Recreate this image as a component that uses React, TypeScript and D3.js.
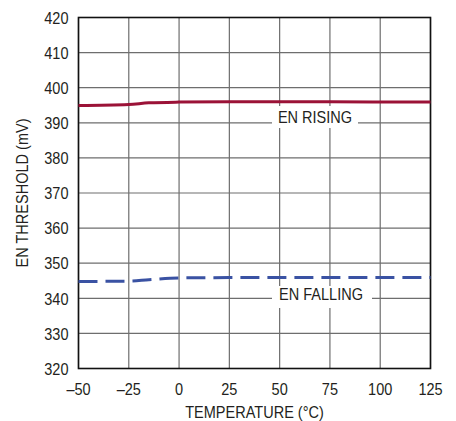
import React from "react";
import * as d3 from "d3";

const temps = [-50, -25, -15, 0, 25, 50, 75, 100, 125];
const risingMv = [394.9, 395.2, 395.7, 395.9, 396.0, 396.0, 396.0, 395.95, 395.9];
const fallingMv = [344.8, 344.9, 345.3, 345.8, 345.9, 345.9, 345.9, 345.9, 345.9];
const xTicks = [-50, -25, 0, 25, 50, 75, 100, 125];
const yTicks = [320, 330, 340, 350, 360, 370, 380, 390, 400, 410, 420];

const W = 456, H = 421;
const L = 78.5, R = 430.5, T = 17.5, B = 368.5;
const FONT = "'Liberation Sans', Arial, sans-serif";
const FS = 17.3;
const SX = 0.84;

function T2({ x, y, anchor = "middle", rotate = 0, children }: any) {
  return (
    <text
      transform={`translate(${x},${y}) rotate(${rotate}) scale(${SX},1)`}
      textAnchor={anchor}
      fontFamily={FONT}
      fontSize={FS}
      fill="#231f20"
    >
      {children}
    </text>
  );
}

export default function App() {
  const x = d3.scaleLinear().domain([-50, 125]).range([L, R]);
  const y = d3.scaleLinear().domain([320, 420]).range([B, T]);
  const line = d3.line<number>().x((_, i) => x(temps[i])).y((d) => y(d)).curve(d3.curveMonotoneX);
  const fmt = (v: number) => (v < 0 ? "\u2013" + Math.abs(v) : String(v));
  return (
    <svg width={W} height={H} style={{ position: "absolute", left: 0, top: 0, background: "#fff" }}>
      {xTicks.map((t) => (
        <line key={"gx" + t} x1={x(t)} x2={x(t)} y1={T} y2={B} stroke="#6e6e6e" strokeWidth={1.2} />
      ))}
      {yTicks.map((t) => (
        <line key={"gy" + t} x1={L} x2={R} y1={y(t)} y2={y(t)} stroke="#6e6e6e" strokeWidth={1.2} />
      ))}
      <rect x={L} y={T} width={R - L} height={B - T} fill="none" stroke="#111" strokeWidth={1.6} />
      <path d={line(risingMv) || ""} fill="none" stroke="#9b1237" strokeWidth={3} />
      <path d={line(fallingMv) || ""} fill="none" stroke="#3a52a3" strokeWidth={3} strokeDasharray="19 8" />
      <rect x={272} y={106} width={86} height={22} fill="#fff" />
      <T2 x={315} y={123.3}>EN RISING</T2>
      <rect x={272} y={286} width={100} height={22} fill="#fff" />
      <T2 x={321} y={300}>EN FALLING</T2>
      {xTicks.map((t) => (
        <T2 key={"tx" + t} x={x(t)} y={395}>{fmt(t)}</T2>
      ))}
      {yTicks.map((t) => (
        <T2 key={"ty" + t} x={68.5} y={y(t) + 6.2} anchor="end">{t}</T2>
      ))}
      <T2 x={x(37.5)} y={417.5}>TEMPERATURE (°C)</T2>
      <T2 x={27.5} y={(T + B) / 2} rotate={-90}>EN THRESHOLD (mV)</T2>
    </svg>
  );
}
